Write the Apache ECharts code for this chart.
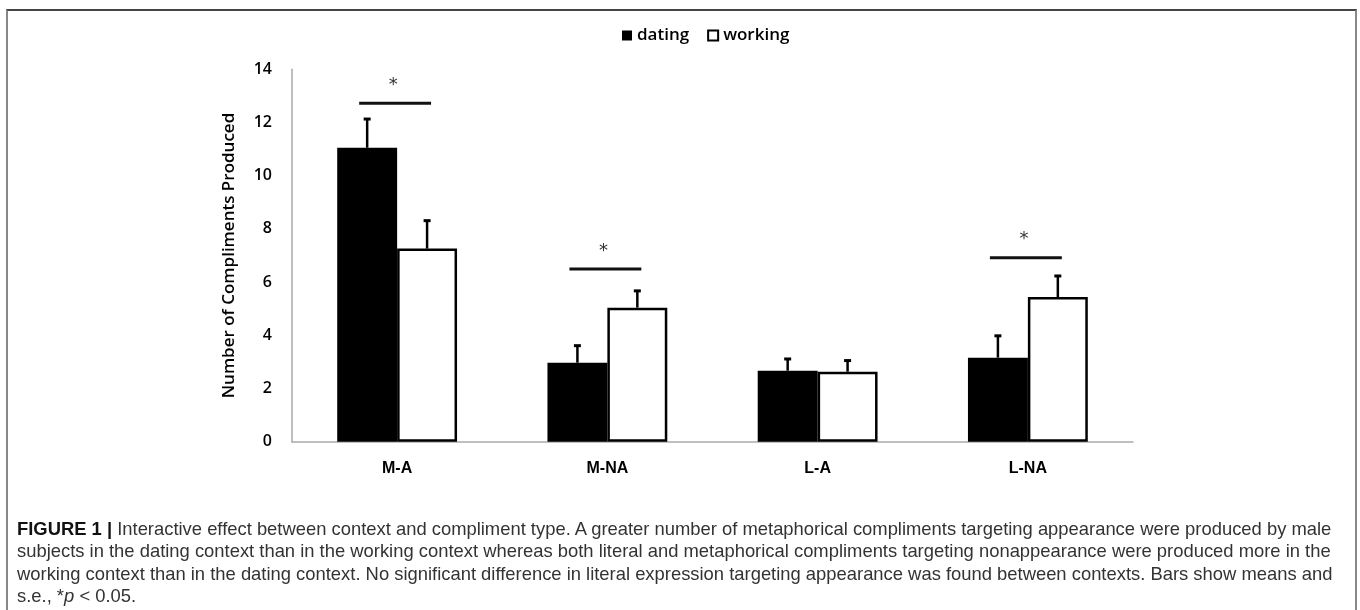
<!DOCTYPE html>
<html>
<head>
<meta charset="utf-8">
<script src="https://cdn.jsdelivr.net/npm/echarts@6/dist/echarts.min.js"></script>
<style>
  html, body { margin:0; padding:0; background:#fff; }
  #wrap { position:relative; width:1360px; height:610px; overflow:hidden; }
  #frame { position:absolute; left:6px; top:9px; width:1347px; height:700px;
           border-top:2px solid #444; border-left:2px solid #888; border-right:2px solid #888; }
  #chart { position:absolute; left:0; top:0; width:1360px; height:610px; }
  #caption { position:absolute; left:17px; top:518px; font-family:"Liberation Sans",Arial,sans-serif;
             font-size:18.4px; line-height:22.4px; color:#333; white-space:nowrap; }
  #caption b { color:#111; }
</style>
</head>
<body>
<div id="wrap">
  <div id="frame"></div>
  <div id="chart"></div>
  <div id="caption"><b>FIGURE 1 |</b> Interactive effect between context and compliment type. A greater number of metaphorical compliments targeting appearance were produced by male<br>subjects in the dating context than in the working context whereas both literal and metaphorical compliments targeting nonappearance were produced more in the<br>working context than in the dating context. No significant difference in literal expression targeting appearance was found between contexts. Bars show means and<br>s.e., *<i>p</i> &lt; 0.05.</div>
</div>
<script>
const categories = ['M-A', 'M-NA', 'L-A', 'L-NA'];
const datingMean = [11.05, 2.97, 2.67, 3.16];
const datingSE = [1.08, 0.64, 0.44, 0.82];
const workingMean = [7.26, 5.04, 2.63, 5.44];
const workingSE = [1.05, 0.63, 0.42, 0.79];
const sigIndex = [0, 1, 3];
const sigLevel = [12.72, 6.49, 6.92];
const sigMark = '*';
const yTicks = [0, 2, 4, 6, 8, 10, 12, 14];

const BAR_FRAC = 0.285;

function errRender(sign) {
  return function (params, api) {
    const i = api.value(0);
    const m = api.coord([i, api.value(1)]);
    const t = api.coord([i, api.value(2)]);
    const band = api.size([1, 0])[0];
    const x = m[0] + sign * band * BAR_FRAC / 2;
    return {
      type: 'group',
      children: [
        { type: 'line', shape: { x1: x, y1: m[1], x2: x, y2: t[1] }, style: { stroke: '#000', lineWidth: 2.5 } },
        { type: 'line', shape: { x1: x - 3.5, y1: t[1], x2: x + 3.5, y2: t[1] }, style: { stroke: '#000', lineWidth: 3 } }
      ]
    };
  };
}

function sigRender(params, api) {
  const i = api.value(0);
  const p = api.coord([i, api.value(1)]);
  const band = api.size([1, 0])[0];
  const hw = band * 0.171;
  return {
    type: 'group',
    children: [
      { type: 'line', shape: { x1: p[0] - hw - 2, y1: p[1], x2: p[0] + hw - 2, y2: p[1] }, style: { stroke: '#111', lineWidth: 3 } },
      { type: 'text', x: p[0] - 4, y: p[1] - 18, style: { text: sigMark, font: '18px "DejaVu Sans", sans-serif', fill: '#333', align: 'center', verticalAlign: 'middle' } }
    ]
  };
}

const chart = echarts.init(document.getElementById('chart'), null, { renderer: 'canvas' });
chart.setOption({
  animation: false,
  backgroundColor: 'transparent',
  legend: {
    left: 617, top: 22,
    itemWidth: 10, itemHeight: 10, itemGap: 18,
    icon: 'rect',
    textStyle: { fontFamily: '"Open Sans", sans-serif', fontWeight: 600, fontSize: 17, color: '#000' },
    data: [
      { name: 'dating', itemStyle: { color: '#000', borderWidth: 0 } },
      { name: 'working', itemStyle: { color: '#fff', borderColor: '#000', borderWidth: 2 } }
    ]
  },
  grid: { left: 292, right: 227, top: 69.3, bottom: 168.3, containLabel: false },
  xAxis: {
    type: 'category',
    data: categories,
    axisLine: { show: true, lineStyle: { color: '#aaa', width: 1.5 } },
    axisTick: { show: false },
    axisLabel: { margin: 19, fontFamily: '"Liberation Sans",sans-serif', fontWeight: 'bold', fontSize: 16, color: '#000' }
  },
  yAxis: {
    type: 'value', min: 0, max: 14, interval: 2,
    name: 'Number of Compliments Produced',
    nameLocation: 'middle', nameGap: 54, nameRotate: 90,
    nameTextStyle: { fontFamily: '"Open Sans", sans-serif', fontWeight: 600, fontSize: 17, color: '#000' },
    axisLine: { show: true, lineStyle: { color: '#aaa', width: 1.5 } },
    axisTick: { show: false },
    splitLine: { show: false },
    axisLabel: { margin: 20, fontFamily: '"Open Sans", sans-serif', fontWeight: 600, fontSize: 16, color: '#000',
      formatter: v => yTicks.includes(v) ? String(v) : '' }
  },
  series: [
    { name: 'dating', type: 'bar', data: datingMean, barWidth: (BAR_FRAC * 100) + '%', barGap: '0%',
      itemStyle: { color: '#000' }, z: 2 },
    { name: 'working', type: 'bar', data: workingMean, barWidth: (BAR_FRAC * 100) + '%', barGap: '0%',
      itemStyle: { color: '#fff', borderColor: '#000', borderWidth: 2.5 }, z: 2 },
    { name: 'dating-err', type: 'custom', renderItem: errRender(-1), z: 3,
      data: datingMean.map((m, i) => [i, m, m + datingSE[i]]) },
    { name: 'working-err', type: 'custom', renderItem: errRender(1), z: 3,
      data: workingMean.map((m, i) => [i, m, m + workingSE[i]]) },
    { name: 'sig', type: 'custom', renderItem: sigRender, z: 4,
      data: sigIndex.map((c, k) => [c, sigLevel[k]]) }
  ]
});
</script>
</body>
</html>
